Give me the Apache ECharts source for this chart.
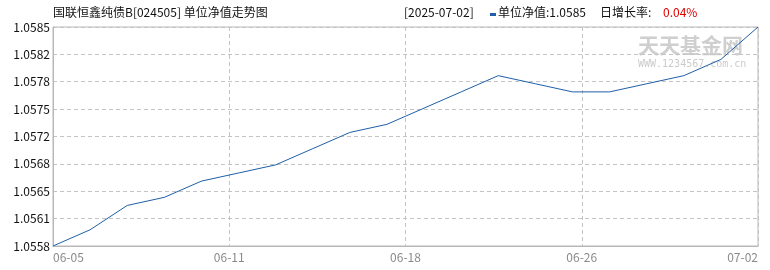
<!DOCTYPE html>
<html>
<head>
<meta charset="utf-8">
<script src="https://cdn.jsdelivr.net/npm/echarts@6/dist/echarts.min.js"></script>
<style>
html,body{margin:0;padding:0;background:#fff;}
#chart{width:770px;height:270px;}
</style>
</head>
<body>
<div id="chart"></div>
<script>
// ---- data ----
const dates = ['06-05','06-06','06-09','06-10','06-11','06-12','06-13','06-16','06-17','06-18',
               '06-19','06-20','06-23','06-24','06-25','06-26','06-27','06-30','07-01','07-02'];
const navValues = [1.0558,1.0560,1.0563,1.0564,1.0566,1.0567,1.0568,1.0570,1.0572,1.0573,
                   1.0575,1.0577,1.0579,1.0578,1.0577,1.0577,1.0578,1.0579,1.0581,1.0585];
const xTickLabels = ['06-05','06-11','06-18','06-26','07-02'];
const titleText = '国联恒鑫纯债B[024505] 单位净值走势图';
const lastDate = '2025-07-02';

// ---- derived ----
const n = navValues.length;
const yMin = Math.min.apply(null, navValues);
const yMax = Math.max.apply(null, navValues);
const ySplits = 8;
const xSplits = xTickLabels.length - 1;
const xInterval = (n - 1) / xSplits;
const lastVal = navValues[n - 1];
const rate = (lastVal / navValues[n - 2] - 1) * 100;

const FONT = "'Noto Sans CJK SC', 'Noto Sans', sans-serif";
const chart = echarts.init(document.getElementById('chart'), null, {renderer: 'canvas'});

const option = {
  animation: false,
  grid: {left: 53, right: 12, top: 27, bottom: 24, show: true, borderColor: '#b8b8b8', borderWidth: 1, containLabel: false},
  xAxis: {
    type: 'value', min: 0, max: n - 1, interval: xInterval,
    axisLine: {show: true, lineStyle: {color: '#b8b8b8', width: 1}},
    axisTick: {show: false},
    splitLine: {show: true, lineStyle: {color: '#c4c4c4', type: [4, 3], width: 1}},
    axisLabel: {
      color: '#8a8a8a', fontSize: 12, fontFamily: FONT, margin: 5,
      alignMinLabel: 'left', alignMaxLabel: 'right',
      formatter: function (v) { return xTickLabels[Math.round(v / xInterval)] || ''; }
    }
  },
  yAxis: {
    type: 'value', min: yMin, max: yMax, interval: (yMax - yMin) / ySplits,
    axisLine: {show: true, lineStyle: {color: '#b8b8b8', width: 1}},
    axisTick: {show: false},
    splitLine: {show: true, lineStyle: {color: '#c4c4c4', type: [4, 3], width: 1}},
    axisLabel: {
      color: '#111', fontSize: 12, fontFamily: FONT, margin: 3,
      formatter: function (v) { return (v + 1e-9).toFixed(4); }
    }
  },
  graphic: [
    {type: 'text', left: 53, top: 6, z: 10,
     style: {text: titleText, fill: '#111', font: '12px ' + FONT}},
    {type: 'text', left: 404, top: 6, z: 10,
     style: {text: '[' + lastDate + ']', fill: '#111', font: '12px ' + FONT}},
    {type: 'rect', left: 490, top: 13, z: 10, shape: {width: 6, height: 3}, style: {fill: '#1f5fa6'}},
    {type: 'text', left: 498, top: 6, z: 10,
     style: {text: '单位净值:' + lastVal.toFixed(4), fill: '#111', font: '12px ' + FONT}},
    {type: 'text', left: 600, top: 6, z: 10,
     style: {text: '日增长率:', fill: '#111', font: '12px ' + FONT}},
    {type: 'text', left: 663, top: 6, z: 10,
     style: {text: rate.toFixed(2) + '%', fill: '#e00000', font: '12px ' + FONT}},
    {type: 'text', left: 638, top: 35, z: 0,
     style: {text: '天天基金网', fill: 'rgba(195,195,195,0.8)', font: 'bold 21px ' + FONT}},
    {type: 'text', left: 638, top: 59, z: 0,
     style: {text: 'WWW.1234567.com.cn', fill: 'rgba(190,190,190,0.8)', font: '10px "DejaVu Sans Mono", monospace'}}
  ],
  series: [{
    type: 'line', z: 5,
    data: navValues.map(function (v, i) { return [i, v]; }),
    showSymbol: false, symbol: 'none',
    lineStyle: {color: '#1f5fa6', width: 1}
  }]
};
chart.setOption(option);
</script>
</body>
</html>
